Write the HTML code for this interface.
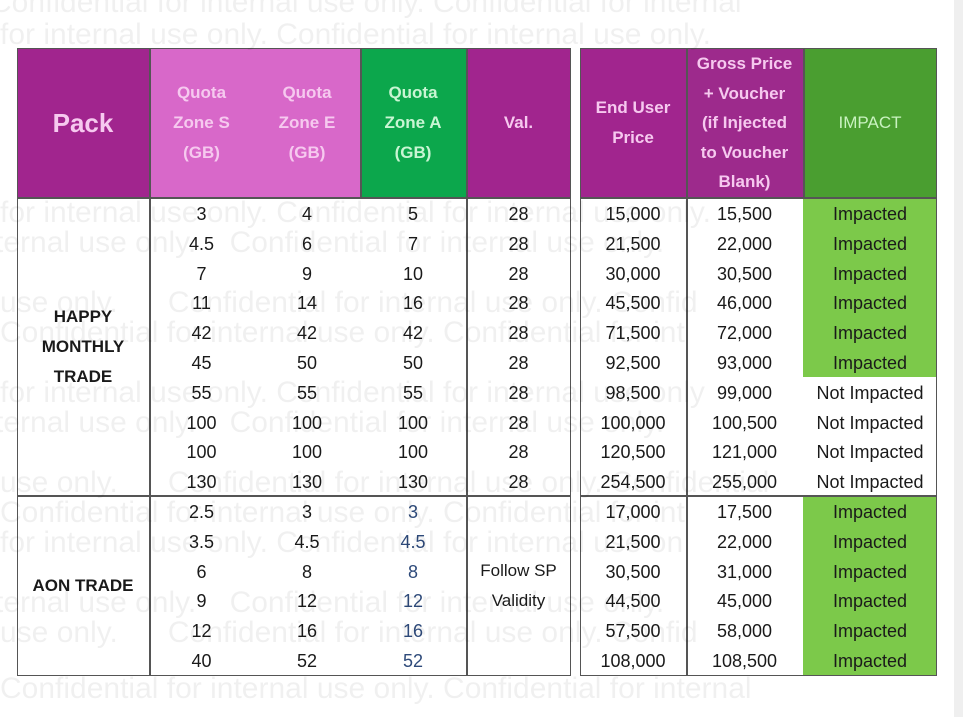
<!DOCTYPE html>
<html><head><meta charset="utf-8"><style>
*{margin:0;padding:0;box-sizing:border-box}
body{width:963px;height:717px;background:#fff;position:relative;overflow:hidden;font-family:"Liberation Sans",sans-serif}
.a{position:absolute}
.h{position:absolute;display:flex;align-items:center;justify-content:center;text-align:center;font-weight:bold;color:#f6c9ef;line-height:30px;font-size:17px}
.c{position:absolute;text-align:center;font-size:18px;color:#1a1a1a;height:30px;line-height:30px}
.wm{position:absolute;left:0;white-space:nowrap;font-size:30px;color:rgba(0,0,0,0.06);line-height:30px;z-index:5}
</style></head><body>
<div class="a" style="left:954px;top:0;width:9px;height:717px;background:#efefef"></div>
<div class="h" style="left:17px;top:48px;width:132px;height:150px;background:#a1258e;font-size:26px">Pack</div>
<div class="h" style="left:149px;top:48px;width:211px;height:150px;background:#d868c9"></div>
<div class="h" style="left:149px;top:48px;width:105px;height:150px">Quota<br>Zone S<br>(GB)</div>
<div class="h" style="left:254px;top:48px;width:106px;height:150px">Quota<br>Zone E<br>(GB)</div>
<div class="h" style="left:360px;top:48px;width:106px;height:150px;background:#0ca74c;color:#c9f5d3">Quota<br>Zone A<br>(GB)</div>
<div class="h" style="left:466px;top:48px;width:105px;height:150px;background:#a1258e">Val.</div>
<div class="h" style="left:580px;top:48px;width:106px;height:150px;background:#a1258e">End User<br>Price</div>
<div class="h" style="left:686px;top:48px;width:117px;height:150px;background:#9d2a8c;line-height:29.5px">Gross Price<br>+ Voucher<br>(if Injected<br>to Voucher<br>Blank)</div>
<div class="h" style="left:803px;top:48px;width:134px;height:150px;background:#4a9e30;color:#c9f2c0;font-weight:normal">IMPACT</div>
<div class="a" style="left:803px;top:198px;width:134px;height:179px;background:#7cc94a"></div>
<div class="a" style="left:803px;top:496px;width:134px;height:179px;background:#7cc94a"></div>
<div class="a" style="left:17px;top:48px;width:554px;height:628px;border:1.5px solid #555"></div>
<div class="a" style="left:580px;top:48px;width:357px;height:628px;border:1.5px solid #555"></div>
<div class="a" style="left:17px;top:197px;width:554px;height:1.5px;background:#555"></div>
<div class="a" style="left:580px;top:197px;width:357px;height:1.5px;background:#555"></div>
<div class="a" style="left:17px;top:495px;width:554px;height:1.5px;background:#555"></div>
<div class="a" style="left:580px;top:495px;width:357px;height:1.5px;background:#555"></div>
<div class="a" style="left:149px;top:48px;width:1.5px;height:628px;background:#555"></div>
<div class="a" style="left:360px;top:48px;width:1.5px;height:150px;background:#555"></div>
<div class="a" style="left:466px;top:48px;width:1.5px;height:628px;background:#555"></div>
<div class="a" style="left:686px;top:48px;width:1.5px;height:628px;background:#555"></div>
<div class="a" style="left:803px;top:48px;width:1.5px;height:150px;background:#555"></div>
<div class="c" style="left:17px;top:302px;width:132px;font-weight:bold;font-size:17px">HAPPY</div>
<div class="c" style="left:17px;top:332px;width:132px;font-weight:bold;font-size:17px">MONTHLY</div>
<div class="c" style="left:17px;top:362px;width:132px;font-weight:bold;font-size:17px">TRADE</div>
<div class="c" style="left:17px;top:571px;width:132px;font-weight:bold;font-size:17px">AON TRADE</div>
<div class="c" style="left:466px;top:556px;width:105px;font-size:17px">Follow SP</div>
<div class="c" style="left:466px;top:586px;width:105px;font-size:17px">Validity</div>
<div class="a" style="left:0;top:199px;width:963px">
<div style="position:relative;height:29.8px"><div class="c" style="left:149px;width:105px">3</div><div class="c" style="left:254px;width:106px">4</div><div class="c" style="left:360px;width:106px">5</div><div class="c" style="left:466px;width:105px">28</div><div class="c" style="left:580px;width:106px">15,000</div><div class="c" style="left:686px;width:117px">15,500</div><div class="c" style="left:803px;width:134px">Impacted</div></div>
<div style="position:relative;height:29.8px"><div class="c" style="left:149px;width:105px">4.5</div><div class="c" style="left:254px;width:106px">6</div><div class="c" style="left:360px;width:106px">7</div><div class="c" style="left:466px;width:105px">28</div><div class="c" style="left:580px;width:106px">21,500</div><div class="c" style="left:686px;width:117px">22,000</div><div class="c" style="left:803px;width:134px">Impacted</div></div>
<div style="position:relative;height:29.8px"><div class="c" style="left:149px;width:105px">7</div><div class="c" style="left:254px;width:106px">9</div><div class="c" style="left:360px;width:106px">10</div><div class="c" style="left:466px;width:105px">28</div><div class="c" style="left:580px;width:106px">30,000</div><div class="c" style="left:686px;width:117px">30,500</div><div class="c" style="left:803px;width:134px">Impacted</div></div>
<div style="position:relative;height:29.8px"><div class="c" style="left:149px;width:105px">11</div><div class="c" style="left:254px;width:106px">14</div><div class="c" style="left:360px;width:106px">16</div><div class="c" style="left:466px;width:105px">28</div><div class="c" style="left:580px;width:106px">45,500</div><div class="c" style="left:686px;width:117px">46,000</div><div class="c" style="left:803px;width:134px">Impacted</div></div>
<div style="position:relative;height:29.8px"><div class="c" style="left:149px;width:105px">42</div><div class="c" style="left:254px;width:106px">42</div><div class="c" style="left:360px;width:106px">42</div><div class="c" style="left:466px;width:105px">28</div><div class="c" style="left:580px;width:106px">71,500</div><div class="c" style="left:686px;width:117px">72,000</div><div class="c" style="left:803px;width:134px">Impacted</div></div>
<div style="position:relative;height:29.8px"><div class="c" style="left:149px;width:105px">45</div><div class="c" style="left:254px;width:106px">50</div><div class="c" style="left:360px;width:106px">50</div><div class="c" style="left:466px;width:105px">28</div><div class="c" style="left:580px;width:106px">92,500</div><div class="c" style="left:686px;width:117px">93,000</div><div class="c" style="left:803px;width:134px">Impacted</div></div>
<div style="position:relative;height:29.8px"><div class="c" style="left:149px;width:105px">55</div><div class="c" style="left:254px;width:106px">55</div><div class="c" style="left:360px;width:106px">55</div><div class="c" style="left:466px;width:105px">28</div><div class="c" style="left:580px;width:106px">98,500</div><div class="c" style="left:686px;width:117px">99,000</div><div class="c" style="left:803px;width:134px">Not Impacted</div></div>
<div style="position:relative;height:29.8px"><div class="c" style="left:149px;width:105px">100</div><div class="c" style="left:254px;width:106px">100</div><div class="c" style="left:360px;width:106px">100</div><div class="c" style="left:466px;width:105px">28</div><div class="c" style="left:580px;width:106px">100,000</div><div class="c" style="left:686px;width:117px">100,500</div><div class="c" style="left:803px;width:134px">Not Impacted</div></div>
<div style="position:relative;height:29.8px"><div class="c" style="left:149px;width:105px">100</div><div class="c" style="left:254px;width:106px">100</div><div class="c" style="left:360px;width:106px">100</div><div class="c" style="left:466px;width:105px">28</div><div class="c" style="left:580px;width:106px">120,500</div><div class="c" style="left:686px;width:117px">121,000</div><div class="c" style="left:803px;width:134px">Not Impacted</div></div>
<div style="position:relative;height:29.8px"><div class="c" style="left:149px;width:105px">130</div><div class="c" style="left:254px;width:106px">130</div><div class="c" style="left:360px;width:106px">130</div><div class="c" style="left:466px;width:105px">28</div><div class="c" style="left:580px;width:106px">254,500</div><div class="c" style="left:686px;width:117px">255,000</div><div class="c" style="left:803px;width:134px">Not Impacted</div></div>
<div style="position:relative;height:29.8px"><div class="c" style="left:149px;width:105px">2.5</div><div class="c" style="left:254px;width:106px">3</div><div class="c" style="left:360px;width:106px;color:#2e4a7a">3</div><div class="c" style="left:580px;width:106px">17,000</div><div class="c" style="left:686px;width:117px">17,500</div><div class="c" style="left:803px;width:134px">Impacted</div></div>
<div style="position:relative;height:29.8px"><div class="c" style="left:149px;width:105px">3.5</div><div class="c" style="left:254px;width:106px">4.5</div><div class="c" style="left:360px;width:106px;color:#2e4a7a">4.5</div><div class="c" style="left:580px;width:106px">21,500</div><div class="c" style="left:686px;width:117px">22,000</div><div class="c" style="left:803px;width:134px">Impacted</div></div>
<div style="position:relative;height:29.8px"><div class="c" style="left:149px;width:105px">6</div><div class="c" style="left:254px;width:106px">8</div><div class="c" style="left:360px;width:106px;color:#2e4a7a">8</div><div class="c" style="left:580px;width:106px">30,500</div><div class="c" style="left:686px;width:117px">31,000</div><div class="c" style="left:803px;width:134px">Impacted</div></div>
<div style="position:relative;height:29.8px"><div class="c" style="left:149px;width:105px">9</div><div class="c" style="left:254px;width:106px">12</div><div class="c" style="left:360px;width:106px;color:#2e4a7a">12</div><div class="c" style="left:580px;width:106px">44,500</div><div class="c" style="left:686px;width:117px">45,000</div><div class="c" style="left:803px;width:134px">Impacted</div></div>
<div style="position:relative;height:29.8px"><div class="c" style="left:149px;width:105px">12</div><div class="c" style="left:254px;width:106px">16</div><div class="c" style="left:360px;width:106px;color:#2e4a7a">16</div><div class="c" style="left:580px;width:106px">57,500</div><div class="c" style="left:686px;width:117px">58,000</div><div class="c" style="left:803px;width:134px">Impacted</div></div>
<div style="position:relative;height:29.8px"><div class="c" style="left:149px;width:105px">40</div><div class="c" style="left:254px;width:106px">52</div><div class="c" style="left:360px;width:106px;color:#2e4a7a">52</div><div class="c" style="left:580px;width:106px">108,000</div><div class="c" style="left:686px;width:117px">108,500</div><div class="c" style="left:803px;width:134px">Impacted</div></div>
</div>
<div class="wm" style="top:-12px;left:-10px">Confidential for internal use only. Confidential for internal</div>
<div class="wm" style="top:20px;left:0">for internal use only. Confidential for internal use only.</div>
<div class="wm" style="top:198px;left:0">for internal use only. Confidential for internal use only.</div>
<div class="wm" style="top:228px;left:-5px">ternal use only.&nbsp;&nbsp;&nbsp; Confidential for internal use only.</div>
<div class="wm" style="top:288px;left:0">use only.&nbsp;&nbsp;&nbsp;&nbsp;&nbsp; Confidential for internal use only. Confid</div>
<div class="wm" style="top:318px;left:0">Confidential for internal use only. Confidential for int</div>
<div class="wm" style="top:378px;left:0">for internal use only. Confidential for internal use only</div>
<div class="wm" style="top:408px;left:-5px">ternal use only.&nbsp;&nbsp;&nbsp; Confidential for internal use only.</div>
<div class="wm" style="top:468px;left:0">use only.&nbsp;&nbsp;&nbsp;&nbsp;&nbsp; Confidential for internal use only. Confidential</div>
<div class="wm" style="top:498px;left:0">Confidential for internal use only. Confidential for int</div>
<div class="wm" style="top:528px;left:0">for internal use only. Confidential for internal use on</div>
<div class="wm" style="top:588px;left:-5px">ternal use only.&nbsp;&nbsp;&nbsp; Confidential for internal use only.</div>
<div class="wm" style="top:618px;left:0">use only.&nbsp;&nbsp;&nbsp;&nbsp;&nbsp; Confidential for internal use only. Confid</div>
<div class="wm" style="top:674px;left:0">Confidential for internal use only. Confidential for internal</div>
</body></html>
